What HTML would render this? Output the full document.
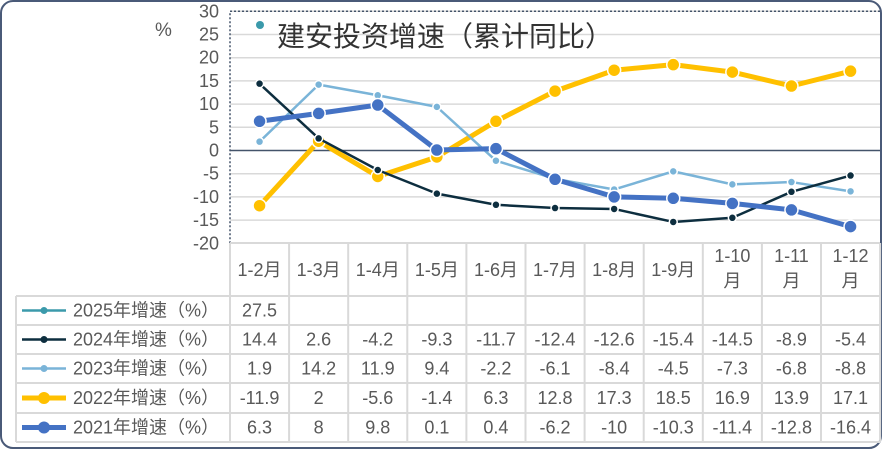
<!DOCTYPE html>
<html><head><meta charset="utf-8">
<style>
body{margin:0;background:#fff;}
svg text{font-family:"Liberation Sans","Noto Sans CJK SC",sans-serif;fill:#595959;}
</style></head>
<body>
<svg width="884" height="462" viewBox="0 0 884 462" xmlns="http://www.w3.org/2000/svg">
<rect x="1" y="1" width="880" height="447" rx="12" fill="#fff" stroke="#4a5a78" stroke-width="2"/>
<g id="grid"></g>
<g id="table"></g>
<g id="series"></g>
<text x="155" y="36" font-size="19">%</text>
<circle cx="260" cy="25" r="4" fill="#3b9aab"/>
<text x="277" y="46" font-size="28" style="fill:#333">建安投资增速（累计同比）</text>
<script>
const categories=["1-2月","1-3月","1-4月","1-5月","1-6月","1-7月","1-8月","1-9月","1-10月","1-11月","1-12月"];
const yTicks=[30,25,20,15,10,5,0,-5,-10,-15,-20];
const names=["2025年增速（%）","2024年增速（%）","2023年增速（%）","2022年增速（%）","2021年增速（%）"];
const s2025=[27.5];
const s2024=[14.4,2.6,-4.2,-9.3,-11.7,-12.4,-12.6,-15.4,-14.5,-8.9,-5.4];
const s2023=[1.9,14.2,11.9,9.4,-2.2,-6.1,-8.4,-4.5,-7.3,-6.8,-8.8];
const s2022=[-11.9,2,-5.6,-1.4,6.3,12.8,17.3,18.5,16.9,13.9,17.1];
const s2021=[6.3,8,9.8,0.1,0.4,-6.2,-10,-10.3,-11.4,-12.8,-16.4];
const NS="http://www.w3.org/2000/svg";
const X0=230,CW=59.1,Y0=150.5,K=4.64;
const x=i=>X0+CW*(i+0.5);
const y=v=>Y0-v*K;
function mk(t,a,p){const e=document.createElementNS(NS,t);for(const k in a)e.setAttribute(k,a[k]);p.appendChild(e);return e;}
const grid=document.getElementById('grid');
yTicks.forEach(v=>{
  const l=mk('line',{x1:X0,x2:880,y1:y(v),y2:y(v),stroke:v===0?'#44546a':'#d9d9d9','stroke-width':1.5},grid);
  
  
  const t=mk('text',{x:219,y:y(v)+6,'font-size':18,'text-anchor':'end'},grid);t.textContent=v;
  
  
});
const bl=mk('path',{d:`M${X0},${y(-20)}V${y(30)}H880`,fill:'none',stroke:'#44546a','stroke-width':1.5,'stroke-dasharray':'2,2'},grid);


const tb=document.getElementById('table');
const rowY=[243,296,325,354,383,413,442];
const LX=16;
const cs='#d9d9d9';
const ln=(a,b,c,d)=>{const l=mk('line',{x1:a,y1:b,x2:c,y2:d,stroke:cs,'stroke-width':2},tb);};
for(let i=0;i<=11;i++)ln(X0+CW*i,rowY[0],X0+CW*i,rowY[6]);
ln(X0,rowY[0],880,rowY[0]);
for(let r=1;r<=6;r++)ln(LX,rowY[r],880,rowY[r]);
ln(LX,rowY[1],LX,rowY[6]);
categories.forEach((c,i)=>{
  const parts=c.length>4?[c.slice(0,-1),c.slice(-1)]:[c];
  parts.forEach((p,j)=>{
    const t=mk('text',{x:x(i),y:parts.length>1?262+j*25:276,'font-size':18,'text-anchor':'middle'},tb);t.textContent=p;
    
    
  });
});
const series=[s2025,s2024,s2023,s2022,s2021];
const colors=['#3b9aab','#0d2e3f','#7ab4d8','#ffc000','#4472c4'];
const widths=[2.5,2.5,2.5,5,5];
const radii=[4,4,4,6.5,6.5];
series.forEach((s,r)=>{
  const cy=(rowY[r+1]+rowY[r+2])/2;
  const lg=mk('line',{x1:22,x2:66,y1:cy,y2:cy,stroke:colors[r],'stroke-width':widths[r]},tb);
  
  
  const lc=mk('circle',{cx:44,cy:cy,r:radii[r]-0.5,fill:colors[r]},tb);
  
  
  const nt=mk('text',{x:73,y:cy+6,'font-size':18},tb);nt.textContent=names[r];
  
  
  s.forEach((v,i)=>{
    const t=mk('text',{x:x(i),y:cy+6,'font-size':18,'text-anchor':'middle'},tb);t.textContent=v;
    
    
  });
});
const sg=document.getElementById('series');
[3,2,1,4].forEach(r=>{
  const s=series[r];
  const pl=mk('polyline',{points:s.map((v,i)=>x(i)+','+y(v)).join(' '),fill:'none',stroke:colors[r],'stroke-width':widths[r],'stroke-linejoin':'round'},sg);
  
  
  s.forEach((v,i)=>{
    const c=mk('circle',{cx:x(i),cy:y(v),r:radii[r],fill:colors[r],stroke:'#fff','stroke-width':1.5},sg);
    
    
  });
});
</script>
</svg>
</body></html>
